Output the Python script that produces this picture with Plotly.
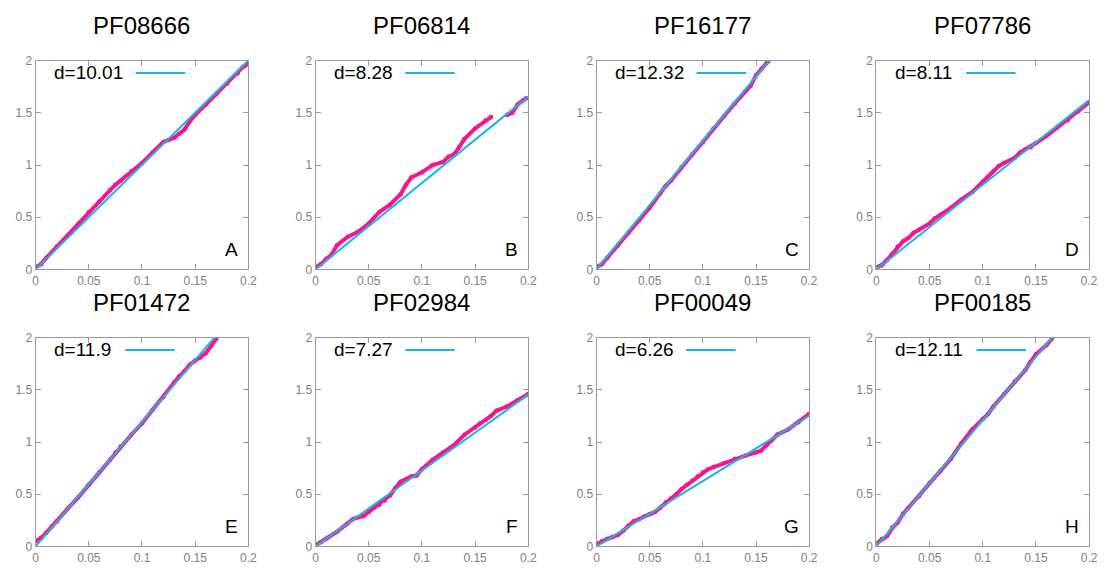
import plotly.graph_objects as go

# ---------------- data ----------------
titles = ["PF08666", "PF06814", "PF16177", "PF07786",
          "PF01472", "PF02984", "PF00049", "PF00185"]
letters = ["A", "B", "C", "D", "E", "F", "G", "H"]
slopes = [10.01, 8.28, 12.32, 8.11, 11.9, 7.27, 6.26, 12.11]

xA = [0, 0.005, 0.01, 0.02, 0.03, 0.04, 0.05, 0.06, 0.07, 0.075, 0.08, 0.09, 0.1, 0.11, 0.12, 0.125, 0.13, 0.135, 0.14, 0.145, 0.15, 0.16, 0.17, 0.18, 0.19, 0.195, 0.2]
yA = [0.02, 0.05, 0.11, 0.22, 0.32, 0.43, 0.55, 0.65, 0.76, 0.81, 0.85, 0.94, 1.02, 1.12, 1.22, 1.24, 1.26, 1.30, 1.34, 1.42, 1.48, 1.58, 1.68, 1.78, 1.88, 1.94, 1.97]

xB = [0, 0.005, 0.01, 0.015, 0.02, 0.03, 0.04, 0.05, 0.06, 0.07, 0.08, 0.085, 0.09, 0.1, 0.11, 0.12, 0.125, 0.13, 0.135, 0.14, 0.15, 0.16, 0.165, 0.172, 0.18, 0.185, 0.19, 0.195, 0.198]
yB = [0.02, 0.05, 0.10, 0.14, 0.23, 0.31, 0.36, 0.44, 0.55, 0.62, 0.72, 0.81, 0.88, 0.93, 1.00, 1.03, 1.08, 1.10, 1.17, 1.25, 1.35, 1.43, 1.46, None, 1.48, 1.50, 1.58, 1.62, 1.64]

xC = [0, 0.005, 0.01, 0.02, 0.03, 0.04, 0.05, 0.06, 0.065, 0.07, 0.08, 0.09, 0.1, 0.11, 0.12, 0.13, 0.14, 0.145, 0.15, 0.155, 0.16, 0.162]
yC = [0.02, 0.05, 0.11, 0.23, 0.35, 0.47, 0.59, 0.73, 0.80, 0.85, 0.98, 1.10, 1.22, 1.35, 1.47, 1.59, 1.71, 1.76, 1.86, 1.92, 1.98, 2.0]

xD = [0, 0.005, 0.01, 0.015, 0.02, 0.025, 0.03, 0.035, 0.04, 0.05, 0.055, 0.06, 0.07, 0.08, 0.09, 0.1, 0.105, 0.11, 0.115, 0.12, 0.13, 0.135, 0.14, 0.145, 0.15, 0.16, 0.17, 0.18, 0.19, 0.2]
yD = [0.02, 0.04, 0.09, 0.15, 0.22, 0.27, 0.30, 0.35, 0.38, 0.44, 0.49, 0.52, 0.59, 0.67, 0.74, 0.84, 0.89, 0.94, 0.99, 1.02, 1.07, 1.12, 1.15, 1.17, 1.21, 1.28, 1.36, 1.43, 1.52, 1.60]

xE = [0, 0.005, 0.01, 0.015, 0.02, 0.03, 0.04, 0.05, 0.06, 0.07, 0.075, 0.08, 0.09, 0.1, 0.11, 0.12, 0.13, 0.135, 0.14, 0.145, 0.15, 0.155, 0.16, 0.165, 0.17]
yE = [0.05, 0.08, 0.13, 0.19, 0.24, 0.36, 0.47, 0.59, 0.71, 0.83, 0.90, 0.96, 1.07, 1.18, 1.31, 1.43, 1.57, 1.63, 1.68, 1.74, 1.78, 1.81, 1.85, 1.92, 1.99]

xF = [0, 0.005, 0.01, 0.02, 0.03, 0.035, 0.04, 0.045, 0.05, 0.055, 0.06, 0.065, 0.07, 0.075, 0.08, 0.09, 0.095, 0.1, 0.11, 0.12, 0.13, 0.14, 0.15, 0.155, 0.16, 0.165, 0.17, 0.18, 0.19, 0.2]
yF = [0.01, 0.04, 0.07, 0.14, 0.22, 0.26, 0.28, 0.29, 0.33, 0.37, 0.40, 0.44, 0.49, 0.56, 0.62, 0.67, 0.68, 0.74, 0.83, 0.90, 0.97, 1.07, 1.14, 1.18, 1.21, 1.25, 1.30, 1.34, 1.40, 1.46]

xG = [0, 0.005, 0.01, 0.015, 0.02, 0.025, 0.03, 0.035, 0.04, 0.045, 0.05, 0.055, 0.06, 0.065, 0.07, 0.075, 0.08, 0.085, 0.09, 0.095, 0.1, 0.105, 0.11, 0.12, 0.13, 0.14, 0.15, 0.155, 0.16, 0.165, 0.17, 0.18, 0.19, 0.2]
yG = [0.02, 0.05, 0.07, 0.09, 0.11, 0.15, 0.20, 0.24, 0.26, 0.29, 0.31, 0.33, 0.37, 0.42, 0.46, 0.50, 0.55, 0.59, 0.63, 0.67, 0.71, 0.74, 0.76, 0.80, 0.84, 0.87, 0.90, 0.92, 0.97, 1.02, 1.07, 1.12, 1.19, 1.27]

xH = [0, 0.005, 0.01, 0.015, 0.02, 0.025, 0.03, 0.04, 0.05, 0.06, 0.07, 0.08, 0.09, 0.1, 0.105, 0.11, 0.12, 0.13, 0.14, 0.145, 0.15, 0.16, 0.165]
yH = [0.03, 0.07, 0.10, 0.18, 0.23, 0.31, 0.37, 0.48, 0.61, 0.72, 0.84, 0.99, 1.12, 1.22, 1.27, 1.34, 1.46, 1.58, 1.69, 1.77, 1.84, 1.93, 1.99]

xs = [xA, xB, xC, xD, xE, xF, xG, xH]
ys = [yA, yB, yC, yD, yE, yF, yG, yH]

fit_x = [0, 0.2]
x_ticks = [0, 0.05, 0.1, 0.15, 0.2]
x_ticktext = ["0", "0.05", "0.1", "0.15", "0.2"]
y_ticks = [0, 0.5, 1, 1.5, 2]
y_ticktext = ["0", "0.5", "1", "1.5", "2"]

# ---------------- layout constants ----------------
W, H = 1109, 569
col_left = [33, 316, 600, 883]
panel_w = 215
row_top = [55, 339]
panel_h = 214
PINK = "#f8168c"
CYAN = "#1ab4ec"
FRAME = "#9a9a9a"
TICKFONT = dict(family="Liberation Sans, Arial, sans-serif", size=12, color="#808080")
FONT = "Liberation Sans, Arial, sans-serif"
LEG_SIZE = 19

CHARW = {"d": 0.556, "=": 0.584, ".": 0.278}


def text_w(s, size):
    return sum(CHARW.get(c, 0.556) for c in s) * size


fig = go.Figure()
layout = dict(width=W, height=H, margin=dict(l=0, r=0, t=0, b=0),
              paper_bgcolor="white", plot_bgcolor="white", showlegend=False)
annotations = []
shapes = []

for i in range(8):
    r, c = divmod(i, 4)
    n = "" if i == 0 else str(i + 1)
    xa, ya = "x" + n, "y" + n
    x0 = col_left[c] / W
    x1 = (col_left[c] + panel_w) / W
    y1 = 1 - row_top[r] / H
    y0 = 1 - (row_top[r] + panel_h) / H
    common = dict(ticks="inside", ticklen=5, tickcolor=FRAME, tickwidth=1,
                  showline=True, linecolor=FRAME, linewidth=1, mirror="ticks",
                  showgrid=False, zeroline=False, tickfont=TICKFONT)
    layout["xaxis" + n] = dict(domain=[x0, x1], anchor=ya, range=[0, 0.2],
                               tickvals=x_ticks, ticktext=x_ticktext, **common)
    layout["yaxis" + n] = dict(domain=[y0, y1], anchor=xa, range=[0, 2],
                               tickvals=y_ticks, ticktext=y_ticktext, **common)

    fig.add_trace(go.Scatter(x=xs[i], y=ys[i], mode="lines+markers",
                             line=dict(color=PINK, width=4),
                             marker=dict(color=PINK, size=4.5),
                             connectgaps=False, xaxis=xa, yaxis=ya))
    fig.add_trace(go.Scatter(x=fit_x, y=[slopes[i] * v for v in fit_x], mode="lines",
                             line=dict(color=CYAN, width=2), xaxis=xa, yaxis=ya))

    # title
    annotations.append(dict(text=titles[i], xref="paper", yref="paper",
                            x=(x0 + x1) / 2, y=1 - (row_top[r] - 36) / H,
                            xanchor="center", yanchor="middle", showarrow=False,
                            font=dict(family=FONT, size=24, color="black")))
    # key text + sample line
    label = "d=%g" % slopes[i]
    tx = 17 / panel_w
    annotations.append(dict(text=label, xref=xa + " domain", yref=ya + " domain",
                            x=tx, y=0.945, xanchor="left", yanchor="middle",
                            showarrow=False,
                            font=dict(family=FONT, size=LEG_SIZE, color="black")))
    lx0 = tx + (text_w(label, LEG_SIZE) + 15) / panel_w
    shapes.append(dict(type="line", xref=xa + " domain", yref=ya + " domain",
                       x0=lx0, x1=lx0 + 50 / panel_w, y0=0.941, y1=0.941,
                       line=dict(color=CYAN, width=2)))
    # panel letter
    annotations.append(dict(text=letters[i], xref=xa + " domain", yref=ya + " domain",
                            x=1 - 8 / panel_w, y=20 / panel_h, xanchor="right",
                            yanchor="middle", showarrow=False,
                            font=dict(family=FONT, size=19, color="black")))

layout["annotations"] = annotations
layout["shapes"] = shapes
fig.update_layout(**layout)
fig.write_html("out.html")
